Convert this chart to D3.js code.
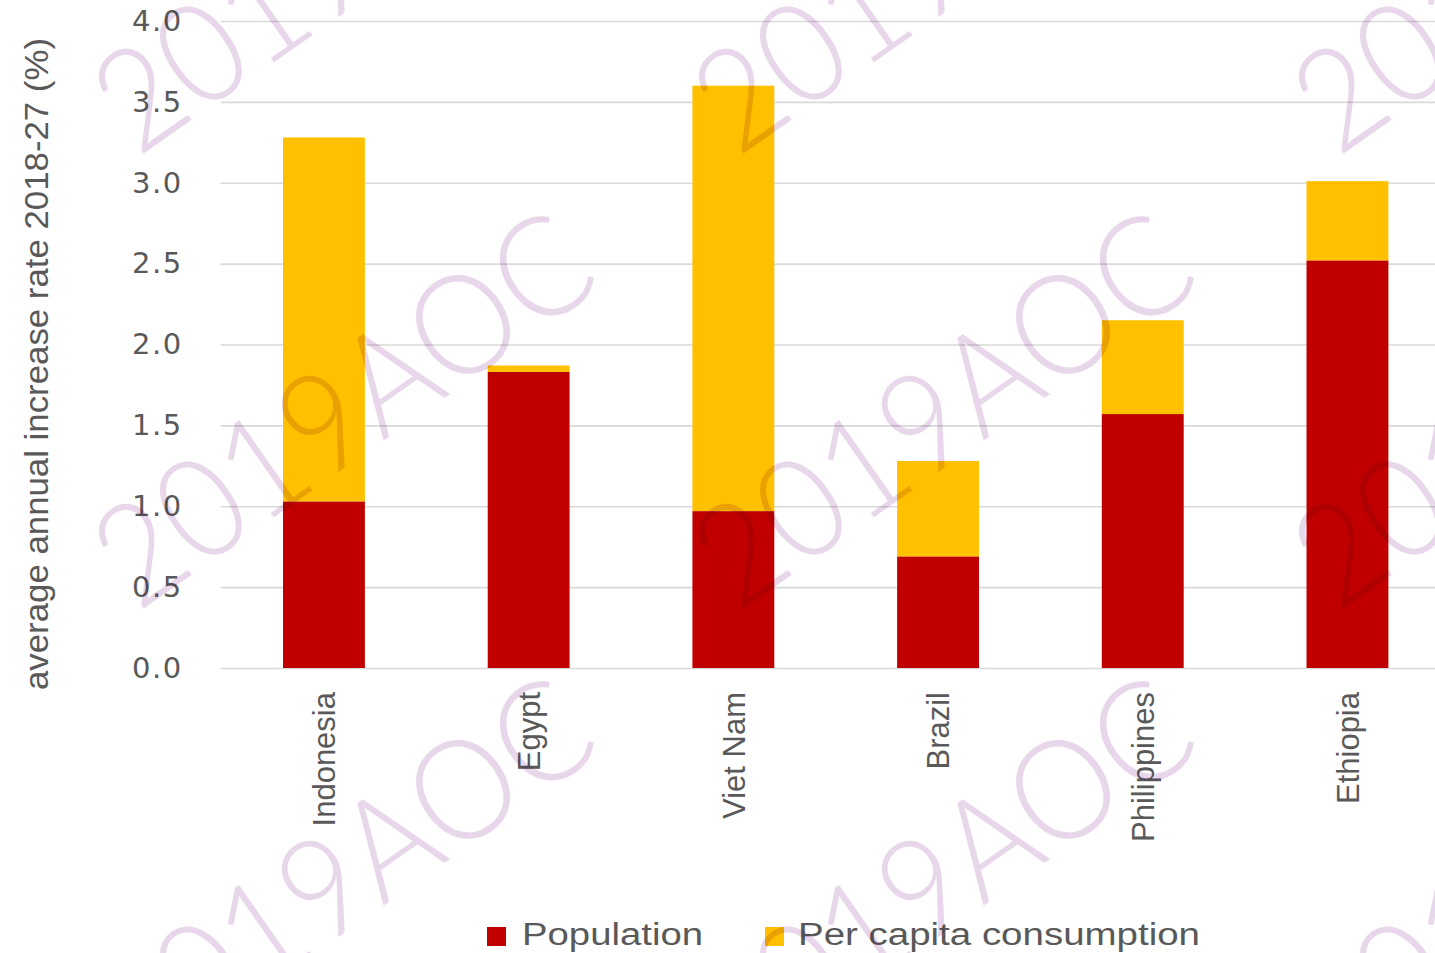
<!DOCTYPE html>
<html>
<head>
<meta charset="utf-8">
<script src="https://cdn.jsdelivr.net/npm/d3@7/dist/d3.min.js"></script>
<style>
  html, body { margin: 0; padding: 0; background: #ffffff; }
  svg { display: block; }
</style>
</head>
<body>
<svg id="chart" width="1435" height="953"></svg>
<script>
// ---- data ----
const categories = ["Indonesia", "Egypt", "Viet Nam", "Brazil", "Philippines", "Ethiopia"];
const population = [1.03, 1.83, 0.97, 0.69, 1.57, 2.52];
const perCapita = [2.25, 0.04, 2.63, 0.59, 0.58, 0.49];
const seriesNames = ["Population", "Per capita consumption"];
const seriesColors = ["#C00000", "#FFC000"];
const yTicks = [0, 0.5, 1.0, 1.5, 2.0, 2.5, 3.0, 3.5, 4.0];
const yTitle = "average annual increase rate 2018-27 (%)";
const watermarkText = "2019AOC";

// ---- layout ----
const W = 1435, H = 953;
const plotLeft = 221.6, plotRight = 1449.8;
const plotTop = 21, plotBottom = 668;
const textColor = "#595959";

const svg = d3.select("#chart");

const rows = categories.map((c, i) => ({
  category: c,
  [seriesNames[0]]: population[i],
  [seriesNames[1]]: perCapita[i]
}));

const x = d3.scaleBand()
  .domain(categories)
  .range([plotLeft, plotRight])
  .paddingInner(0.6)
  .paddingOuter(0.3);

const y = d3.scaleLinear().domain([0, 4]).range([plotBottom, plotTop]);

// gridlines + y tick labels
const yAxis = svg.append("g")
  .attr("transform", `translate(${plotLeft - 1},0)`)
  .call(d3.axisLeft(y)
    .tickValues(yTicks)
    .tickSize(-(W - plotLeft + 1))
    .tickPadding(38)
    .tickFormat(d3.format(".1f")));
yAxis.select(".domain").remove();
yAxis.selectAll(".tick line")
  .attr("stroke", "#d9d9d9")
  .attr("stroke-width", 1.6);
yAxis.selectAll(".tick text")
  .attr("fill", textColor)
  .style("font-family", "'DejaVu Sans', Verdana, sans-serif")
  .style("font-size", "29px")
  .style("letter-spacing", "1.5px");

// stacked bars
const stack = d3.stack().keys(seriesNames);
const stacked = stack(rows);
const color = d3.scaleOrdinal().domain(seriesNames).range(seriesColors);

svg.append("g")
  .selectAll("g")
  .data(stacked)
  .join("g")
  .attr("fill", d => color(d.key))
  .selectAll("rect")
  .data(d => d)
  .join("rect")
  .attr("x", d => x(d.data.category))
  .attr("width", x.bandwidth())
  .attr("y", d => y(d[1]))
  .attr("height", d => y(d[0]) - y(d[1]));

// x axis labels
const xAxis = svg.append("g")
  .attr("transform", `translate(0,${plotBottom})`)
  .call(d3.axisBottom(x).tickSize(0).tickPadding(0));
xAxis.select(".domain").remove();
xAxis.selectAll(".tick text")
  .attr("transform", "rotate(-90)")
  .attr("x", -24)
  .attr("y", 0)
  .attr("dy", "0.36em")
  .attr("text-anchor", "end")
  .attr("fill", textColor)
  .style("font-family", "'Liberation Sans', Arial, sans-serif")
  .style("font-size", "31px");

// y axis title
svg.append("text")
  .attr("transform", `translate(48,${(38 + 690) / 2}) rotate(-90)`)
  .attr("text-anchor", "middle")
  .attr("fill", textColor)
  .attr("textLength", 652)
  .attr("lengthAdjust", "spacingAndGlyphs")
  .style("font-family", "'Liberation Sans Narrow', 'Liberation Sans', Arial, sans-serif")
  .style("font-size", "33px")
  .text(yTitle);

// legend
const legendItems = [
  { name: seriesNames[0], color: seriesColors[0], sx: 487, tx: 522, len: 181 },
  { name: seriesNames[1], color: seriesColors[1], sx: 765, tx: 798, len: 402 }
];
const legend = svg.append("g");
legend.selectAll("rect")
  .data(legendItems)
  .join("rect")
  .attr("x", d => d.sx)
  .attr("y", 927)
  .attr("width", 19)
  .attr("height", 19)
  .attr("fill", d => d.color);
legend.selectAll("text")
  .data(legendItems)
  .join("text")
  .attr("x", d => d.tx)
  .attr("y", 945)
  .attr("fill", textColor)
  .attr("textLength", d => d.len)
  .attr("lengthAdjust", "spacingAndGlyphs")
  .style("font-family", "'Liberation Sans', Arial, sans-serif")
  .style("font-size", "31px")
  .text(d => d.name);

// watermark tiles
const wm = svg.append("g").style("mix-blend-mode", "multiply").attr("pointer-events", "none");
const tiles = [];
[340, 940, 1540].forEach(cx => [-50, 405, 870].forEach(cy => tiles.push([cx, cy])));
wm.selectAll("text")
  .data(tiles)
  .join("text")
  .attr("transform", d => `translate(${d[0]},${d[1]}) rotate(-35)`)
  .attr("text-anchor", "middle")
  .attr("dominant-baseline", "central")
  .attr("fill", "#e8d6ea")
  .attr("textLength", 570)
  .attr("lengthAdjust", "spacingAndGlyphs")
  .style("font-family", "Lato, 'Liberation Sans', sans-serif")
  .style("font-weight", 300)
  .style("font-size", "140px")
  .text(watermarkText);
</script>
</body>
</html>
